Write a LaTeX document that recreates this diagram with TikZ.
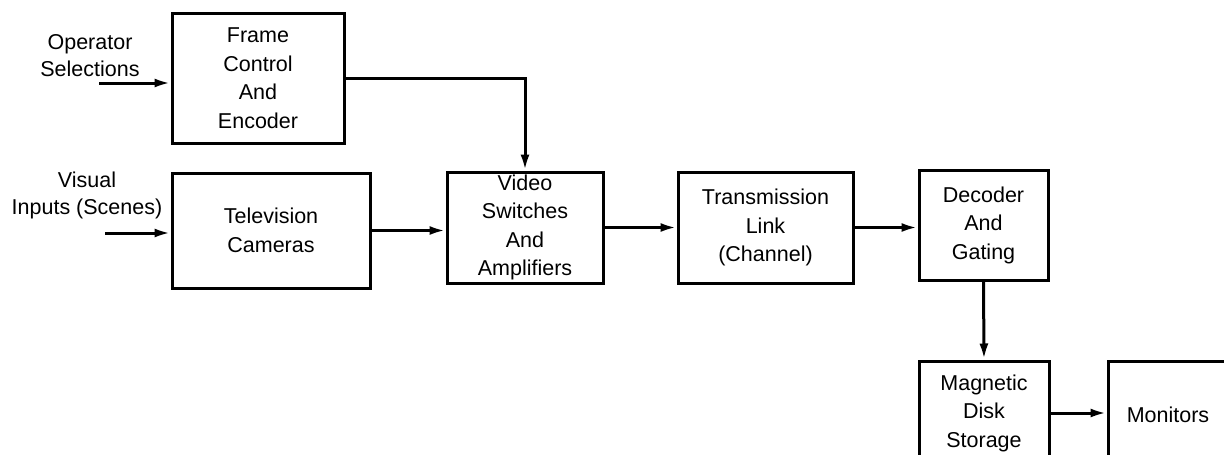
\documentclass[tikz,border=0pt]{standalone}
\usepackage{fontspec}
\setmainfont{Liberation Sans}
\usetikzlibrary{arrows.meta}
\tikzset{
  blk/.style={draw, line width=3pt, align=center, inner sep=0pt,
              font=\fontsize{21.5}{28.5}\selectfont},
  lbl/.style={align=center, inner sep=0pt, font=\fontsize{21.5}{27}\selectfont},
  arr/.style={line width=3pt, -{Latex[length=16pt,width=9pt]}}
}
\begin{document}
\begin{tikzpicture}[x=1pt,y=-1pt]
\clip (0,0) rectangle (1224,455);
\fill[white] (0,0) rectangle (1224,455);

% processing blocks
\node[blk, minimum width=172pt, minimum height=130pt] (frame) at (258,78) {Frame\\Control\\And\\Encoder};
\node[blk, minimum width=198pt, minimum height=115pt] (tv) at (271,230.5) {Television\\Cameras};
\node[blk, minimum width=156pt, minimum height=111pt] (video) at (525,227.5) {Video\\Switches\\And\\Amplifiers};
\node[blk, minimum width=175pt, minimum height=111pt] (trans) at (765.5,227.5) {Transmission\\Link\\(Channel)};
\node[blk, minimum width=129pt, minimum height=110pt] (dec) at (983.5,225) {Decoder\\And\\Gating};
\node[blk, minimum width=130pt, minimum height=104pt] (mag) at (984,413) {Magnetic\\Disk\\Storage};
\node[blk, minimum width=120pt, minimum height=108pt] (mon) at (1168,415) {Monitors};

% input labels
\node[lbl] (op) at (90,56) {Operator\\Selections};
\node[lbl] (vis) at (87,195) {Visual\\Inputs (Scenes)};
\coordinate (opin) at (99,83);
\coordinate (visin) at (105,233);

% signal flow
\draw[arr] (opin) -- (opin -| frame.west);
\draw[arr] (visin) -- (visin -| tv.west);
\draw[arr] (frame.east) -| (video.north);
\draw[arr] (tv.east) -- (tv.east -| video.west);
\draw[arr] (video.east) -- (trans.west);
\draw[arr] (trans.east) -- (trans.east -| dec.west);
\draw[arr] (dec.south) -- (mag.north);
\draw[arr] (mag.east) -- (mag.east -| mon.west);
\end{tikzpicture}
\end{document}
